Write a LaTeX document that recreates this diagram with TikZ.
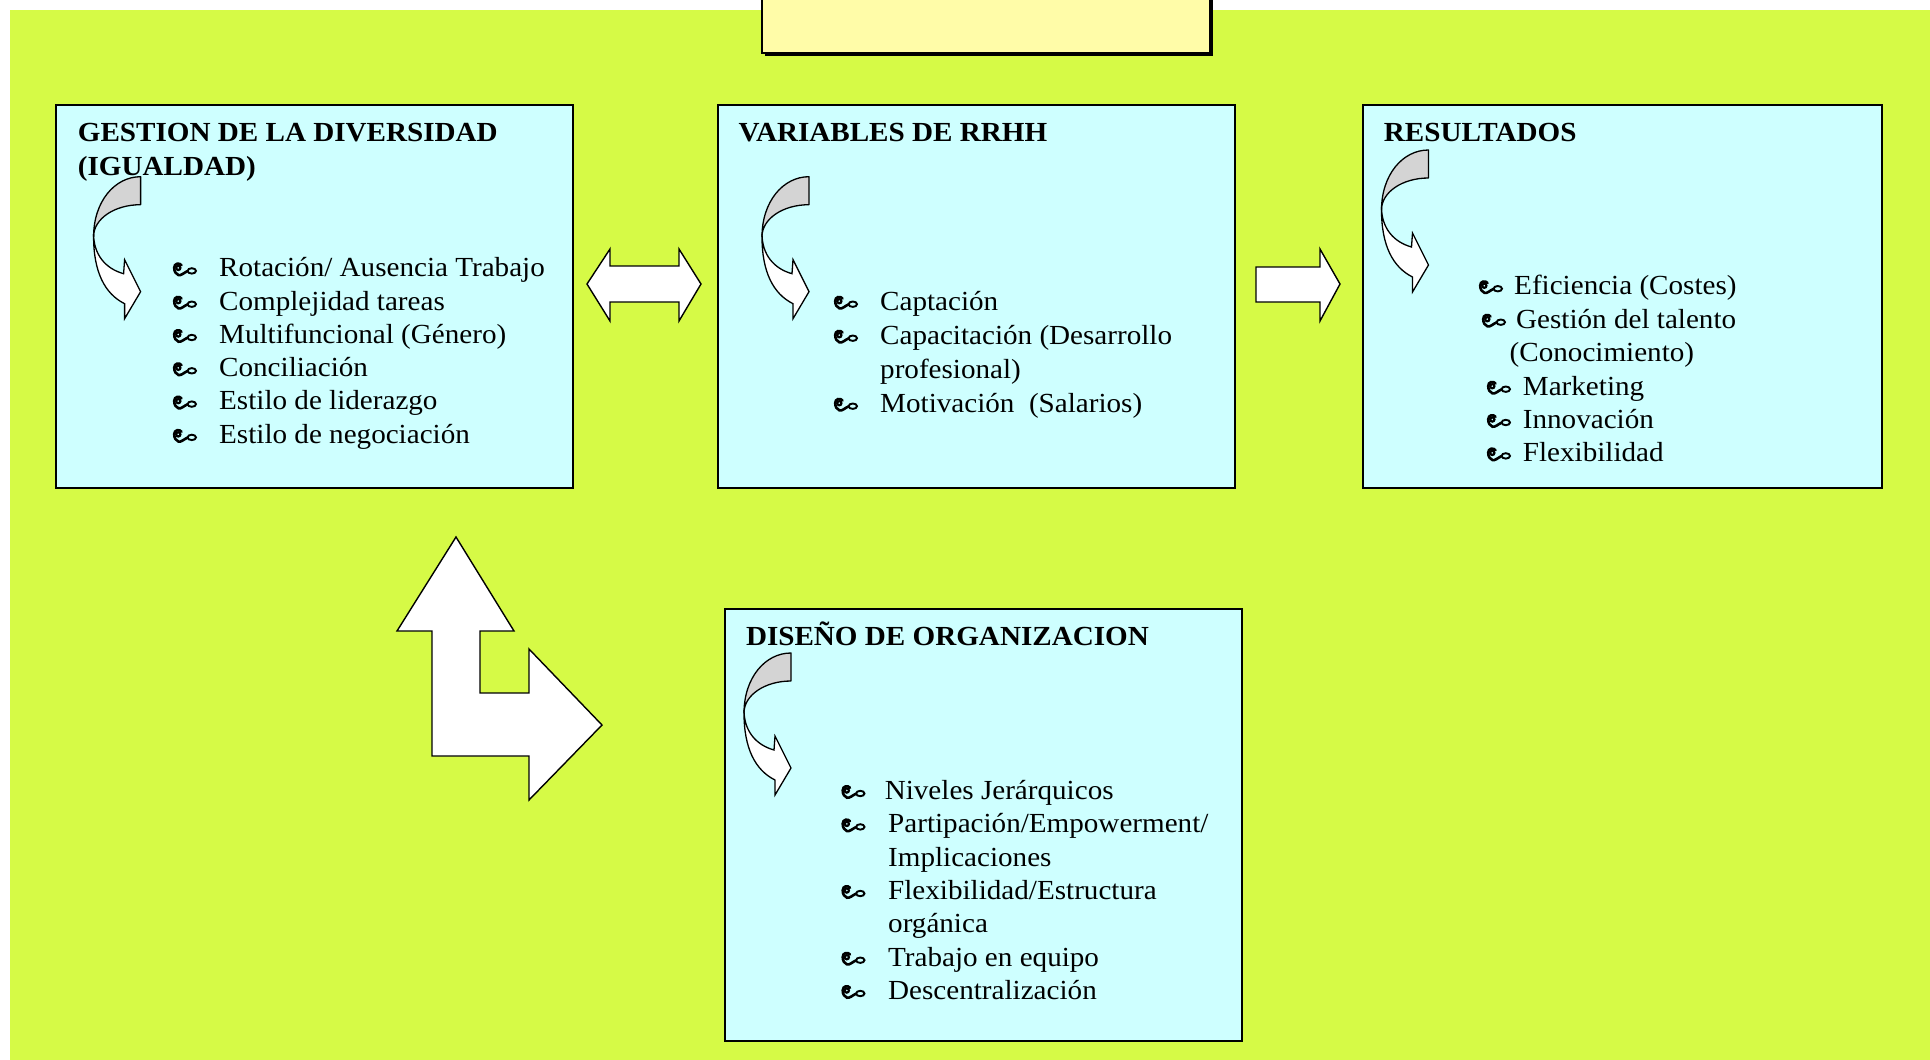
\documentclass[tikz,border=0pt]{standalone}
\usepackage{fontspec}
\setmainfont{Liberation Serif}[FakeStretch=1.055]
\definecolor{bggreen}{RGB}{214,250,70}
\definecolor{panelcyan}{RGB}{206,255,255}
\definecolor{headyellow}{RGB}{255,252,168}
\definecolor{curlgray}{RGB}{212,212,212}
\begin{document}
\begin{tikzpicture}[x=1pt,y=-1pt,
  panel/.style={draw=black, line width=2pt, fill=panelcyan, inner sep=0pt, outer sep=0pt},
  ttl/.style={font=\fontsize{27.6pt}{33.3pt}\selectfont\bfseries, anchor=base west, inner sep=0pt},
  itm/.style={font=\fontsize{27.6pt}{33.3pt}\selectfont, anchor=base west, inner sep=0pt},
  blockarrow/.style={draw=black, line width=1.4pt, fill=white, line join=miter},
  bul/.pic={
    % curled ornament used as list bullet
    \draw[line width=2.6pt, line cap=round]
      (9.5,-11.5) .. controls (7.5,-14.2) and (2.2,-13.5) .. (2.2,-9)
      .. controls (2.2,-5) and (4,-2.5) .. (6.5,-1.6)
      .. controls (9,-0.8) and (12,-4) .. (15.5,-5.6);
    \draw[line width=2.2pt] (6.3,-8.8) circle[radius=2.1pt];
    \draw[line width=1.9pt] (19.8,-5.8) ellipse[x radius=4.2pt, y radius=2.7pt];
  },
  curlarrow/.pic={
    \draw[line width=1.3pt, fill=curlgray, line join=round]
      (0,0) -- (0,28) .. controls (-26,28) and (-47,42) .. (-47,60)
      .. controls (-47,25) and (-26,0) .. (0,0) -- cycle;
    \draw[line width=1.3pt, fill=white, line join=miter]
      (-47,57) .. controls (-47,78) and (-35,92) .. (-17,97) -- (-16,83) -- (0,115)
      -- (-16,142) -- (-16,127) .. controls (-36,117) and (-47,95) .. (-47,60) -- cycle;
  }]
\useasboundingbox (0,0) rectangle (1930,1060);
\clip (0,0) rectangle (1930,1060);

% page and coloured field
\fill[white] (0,0) rectangle (1930,1060);
\fill[bggreen] (10,10) rectangle (1930,1060);

% heading box at the top, with its shadow
\fill[black] (764.5,-10) rectangle (1212.5,55.5);
\node[draw=black, line width=1.2pt, fill=headyellow, inner sep=0pt,
      minimum width=448pt, minimum height=63pt] (header) at (986,21.5) {};

% the four panels
\node[panel, minimum width=517pt, minimum height=383pt] (gestion) at (314.5,296.5) {};
\node[panel, minimum width=517.5pt, minimum height=383pt] (rrhh) at (976.25,296.5) {};
\node[panel, minimum width=518.7pt, minimum height=383pt] (result) at (1622.35,296.5) {};
\node[panel, minimum width=516.7pt, minimum height=431.7pt] (diseno) at (983.35,824.85) {};

% panel 1
\node[ttl] (g0) at (77.7,141.7) {GESTION DE LA DIVERSIDAD};
\node[ttl] (g00) at (77.7,175) {(IGUALDAD)};
\foreach \t [count=\i from 0] in {Rotación/ Ausencia Trabajo, Complejidad tareas,
    Multifuncional (Género), Conciliación, Estilo de liderazgo, Estilo de negociación}{
  \pic at (172,276.7+33.3*\i) {bul};
  \node[itm] (g\i) at (219,276.7+33.3*\i) {\t};
}
\pic at (140.6,176.7) {curlarrow};

% panel 2
\node[ttl] (r0) at (738.5,141.7) {VARIABLES DE RRHH};
\pic at (833,310) {bul};
\node[itm] (r1) at (880,310) {Captación};
\pic at (833,344) {bul};
\node[itm] (r2) at (880,344) {Capacitación (Desarrollo};
\node[itm] (r3) at (880,378) {profesional)};
\pic at (833,412) {bul};
\node[itm] (r4) at (880,412) {Motivación\ \ (Salarios)};
\pic at (809,176.7) {curlarrow};

% panel 3
\node[ttl] (s0) at (1383.7,141.7) {RESULTADOS};
\pic at (1478,294.5) {bul};
\node[itm] (s1) at (1514,294.5) {Eficiencia (Costes)};
\pic at (1481,328) {bul};
\node[itm] (s2) at (1516,328) {Gestión del talento};
\node[itm] (s3) at (1509.5,361.7) {(Conocimiento)};
\pic at (1486,395) {bul};
\node[itm] (s4) at (1522.7,395) {Marketing};
\pic at (1486,428.3) {bul};
\node[itm] (s5) at (1522.7,428.3) {Innovación};
\pic at (1486,461.7) {bul};
\node[itm] (s6) at (1522.7,461.7) {Flexibilidad};
\pic at (1428.5,150) {curlarrow};

% panel 4
\node[ttl] (d0) at (745.8,645.7) {DISEÑO DE ORGANIZACION};
\pic at (840.5,799.3) {bul};
\node[itm] (d1) at (884.6,799.3) {Niveles Jerárquicos};
\pic at (840.5,832.7) {bul};
\node[itm] (d2) at (888,832.7) {Partipación/Empowerment/};
\node[itm] (d3) at (888,866) {Implicaciones};
\pic at (840.5,899.3) {bul};
\node[itm] (d4) at (888,899.3) {Flexibilidad/Estructura};
\node[itm] (d5) at (888,932.7) {orgánica};
\pic at (840.5,966) {bul};
\node[itm] (d6) at (888,966) {Trabajo en equipo};
\pic at (840.5,999.3) {bul};
\node[itm] (d7) at (888,999.3) {Descentralización};
\pic at (791,653) {curlarrow};

% block arrows between the panels
\draw[blockarrow] (587,284) -- (610,249) -- (610,266) -- (679,266) -- (679,249) -- (701,284)
  -- (679,321) -- (679,302) -- (610,302) -- (610,321) -- cycle;
\draw[blockarrow] (1256,267) -- (1320,267) -- (1320,249) -- (1340,284) -- (1320,321)
  -- (1320,302) -- (1256,302) -- cycle;
\draw[blockarrow] (456,537) -- (514,631) -- (480,631) -- (480,693) -- (529,693) -- (529,649)
  -- (602,725) -- (529,800) -- (529,756) -- (432,756) -- (432,631) -- (397,631) -- cycle;
\end{tikzpicture}
\end{document}
